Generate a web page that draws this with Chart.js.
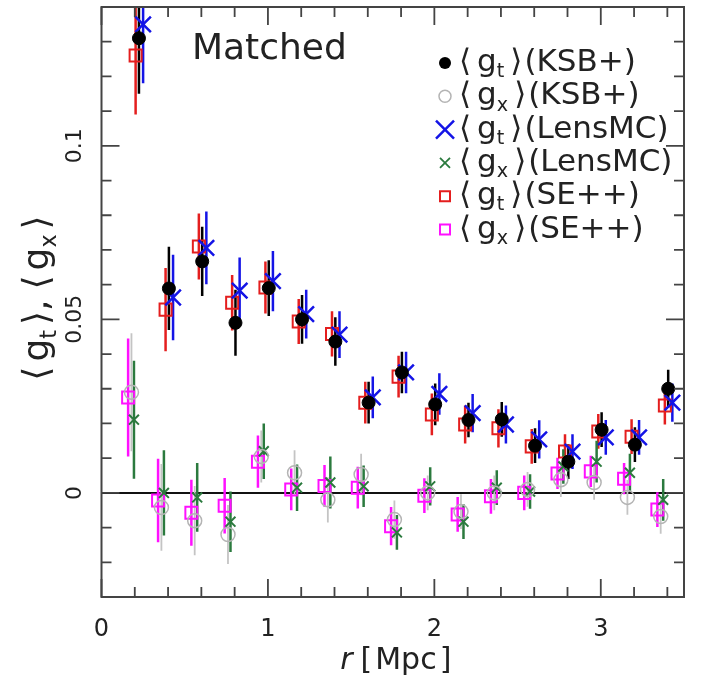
<!DOCTYPE html>
<html>
<head>
<meta charset="utf-8">
<script src="https://cdn.jsdelivr.net/npm/chart.js@4.4.0/dist/chart.umd.min.js"></script>
<style>
  html, body { margin: 0; padding: 0; background: #fff; }
</style>
</head>
<body>
<canvas id="chart" width="707" height="691"></canvas>
<script>
// radial bins [Mpc]
const radius = [0.22, 0.4, 0.6, 0.8, 1.0, 1.2, 1.4, 1.6, 1.8, 2.0, 2.2, 2.4, 2.6, 2.8, 3.0, 3.2, 3.4];

// tangential shear
const gtKSB   = [0.131, 0.0589, 0.0667, 0.049, 0.059, 0.050, 0.0436, 0.026, 0.0347, 0.0255, 0.021, 0.0212, 0.0136, 0.009, 0.0182, 0.0139, 0.030];
const gtKSBErr = [0.016, 0.012, 0.010, 0.0095, 0.008, 0.007, 0.007, 0.006, 0.006, 0.006, 0.005, 0.005, 0.005, 0.005, 0.005, 0.005, 0.0055];
const gtLens  = [0.135, 0.0563, 0.0706, 0.0583, 0.061, 0.0515, 0.0456, 0.0275, 0.0347, 0.0285, 0.023, 0.0197, 0.0154, 0.0119, 0.016, 0.016, 0.026];
const gtLensErr = [0.017, 0.0123, 0.0105, 0.0095, 0.0087, 0.007, 0.0067, 0.006, 0.006, 0.006, 0.0055, 0.0055, 0.0055, 0.005, 0.005, 0.005, 0.0055];
const gtSE    = [0.126, 0.0528, 0.071, 0.0548, 0.0592, 0.0494, 0.0458, 0.026, 0.0335, 0.0226, 0.0197, 0.0186, 0.0134, 0.0119, 0.0177, 0.0162, 0.0252];
const gtSEErr = [0.017, 0.012, 0.0095, 0.008, 0.0075, 0.0065, 0.0065, 0.006, 0.006, 0.006, 0.0055, 0.0055, 0.005, 0.005, 0.005, 0.005, 0.0055];

// cross shear
const gxKSB   = [0.029, -0.0042, -0.008, -0.012, 0.0105, 0.0058, -0.002, 0.0053, -0.0077, 0.0, -0.0054, 0.0, 0.001, 0.0038, 0.003, -0.0013, -0.0068];
const gxKSBErr = [0.017, 0.0125, 0.010, 0.0085, 0.0075, 0.0065, 0.0065, 0.006, 0.0055, 0.005, 0.005, 0.005, 0.005, 0.005, 0.005, 0.005, 0.005];
const gxLens  = [0.0211, 0.0, -0.0013, -0.0083, 0.012, 0.0015, 0.003, 0.0019, -0.0114, 0.0019, -0.0083, 0.0015, 0.0004, 0.0076, 0.009, 0.0058, -0.002];
const gxLensErr = [0.017, 0.0123, 0.0099, 0.0087, 0.008, 0.0067, 0.0075, 0.006, 0.005, 0.0055, 0.005, 0.005, 0.005, 0.005, 0.006, 0.0055, 0.006];
const gxSE    = [0.0275, -0.0022, -0.0057, -0.0037, 0.009, 0.001, 0.002, 0.0015, -0.0096, -0.0008, -0.0062, -0.001, 0.0, 0.0056, 0.0062, 0.0041, -0.0048];
const gxSEErr = [0.017, 0.012, 0.0095, 0.008, 0.0075, 0.006, 0.006, 0.006, 0.0055, 0.005, 0.005, 0.005, 0.005, 0.0045, 0.0045, 0.0045, 0.005];

const xTicks = [0, 1, 2, 3];
const yTicks = [0, 0.05, 0.1];

const FONT = '"DejaVu Sans", sans-serif';
const INK = '#222';
const AXIS = '#444';

// [subscript, method, marker]
const legendRows = [
  ['t', 'KSB+', 'dot'],
  ['x', 'KSB+', 'ring'],
  ['t', 'LensMC', 'bigX'],
  ['x', 'LensMC', 'smallX'],
  ['t', 'SE++', 'redSq'],
  ['x', 'SE++', 'magSq'],
];

function series(label, xs, ys, errs, dx, style) {
  return Object.assign({
    label: label,
    data: xs.map((r, i) => ({ x: r + dx, y: ys[i] })),
    errors: errs,
  }, style);
}

const datasets = [
  series('gt KSB+', radius, gtKSB, gtKSBErr, 0.005,
    { pointStyle: 'circle', pointRadius: 6.5, backgroundColor: '#000', borderColor: '#000', borderWidth: 1, errColor: '#000', errWidth: 2.5 }),
  series('gx KSB+', radius, gxKSB, gxKSBErr, -0.04,
    { pointStyle: 'circle', pointRadius: 7, backgroundColor: 'rgba(0,0,0,0)', borderColor: '#b4b4b4', borderWidth: 1.5, errColor: '#c4c4c4', errWidth: 1.8 }),
  series('gt LensMC', radius, gtLens, gtLensErr, 0.03,
    { pointStyle: 'crossRot', pointRadius: 11, backgroundColor: '#1414e6', borderColor: '#1414e6', borderWidth: 2.5, errColor: '#1414e6', errWidth: 2.5 }),
  series('gx LensMC', radius, gxLens, gxLensErr, -0.025,
    { pointStyle: 'crossRot', pointRadius: 7, backgroundColor: '#2b7a3e', borderColor: '#2b7a3e', borderWidth: 2, errColor: '#2b7a3e', errWidth: 2.5 }),
  series('gt SE++', radius, gtSE, gtSEErr, -0.015,
    { pointStyle: 'rect', pointRadius: 8.5, backgroundColor: 'rgba(0,0,0,0)', borderColor: '#e41e1e', borderWidth: 2, errColor: '#e41e1e', errWidth: 2.5 }),
  series('gx SE++', radius, gxSE, gxSEErr, -0.06,
    { pointStyle: 'rect', pointRadius: 8.5, backgroundColor: 'rgba(0,0,0,0)', borderColor: '#ff10ff', borderWidth: 2, errColor: '#ff10ff', errWidth: 2.5 }),
];

// draw a run of pieces: [text, isSub, isItalic] or a number for extra space
function drawRuns(ctx, runs, x, y, size, align) {
  const fontOf = r => (r[2] ? 'italic ' : '') + (r[1] ? size * 0.62 : size) + 'px ' + FONT;
  const widths = runs.map(r => {
    if (typeof r === 'number') return r;
    ctx.font = fontOf(r);
    return ctx.measureText(r[0]).width;
  });
  const total = widths.reduce((a, b) => a + b, 0);
  let cx = align === 'center' ? x - total / 2 : x;
  runs.forEach((r, i) => {
    if (typeof r !== 'number') {
      ctx.font = fontOf(r);
      ctx.fillText(r[0], cx, r[1] ? y + size * 0.3 : y);
    }
    cx += widths[i];
  });
}

// <g_sub> with the roomy angle brackets of the original
function bracket(sub, pad) {
  return [['\u27e8', 0], pad, ['g', 0], [sub, 1], pad, ['\u27e9', 0]];
}

function drawMarker(ctx, kind, x, y) {
  ctx.save();
  ctx.beginPath();
  if (kind === 'dot') {
    ctx.fillStyle = '#000';
    ctx.arc(x, y, 6, 0, Math.PI * 2);
    ctx.fill();
  } else if (kind === 'ring') {
    ctx.strokeStyle = '#b4b4b4'; ctx.lineWidth = 1.5;
    ctx.arc(x, y, 6, 0, Math.PI * 2);
    ctx.stroke();
  } else if (kind === 'bigX' || kind === 'smallX') {
    const h = kind === 'bigX' ? 9 : 5;
    ctx.strokeStyle = kind === 'bigX' ? '#1414e6' : '#2b7a3e';
    ctx.lineWidth = kind === 'bigX' ? 2.5 : 1.8;
    ctx.moveTo(x - h, y - h); ctx.lineTo(x + h, y + h);
    ctx.moveTo(x + h, y - h); ctx.lineTo(x - h, y + h);
    ctx.stroke();
  } else {
    ctx.strokeStyle = kind === 'redSq' ? '#e41e1e' : '#ff10ff';
    ctx.lineWidth = 2;
    ctx.rect(x - 5, y - 5, 10, 10);
    ctx.stroke();
  }
  ctx.restore();
}

const errorBars = {
  id: 'errorBars',
  beforeDatasetsDraw(chart) {
    const { ctx, chartArea: a, scales: { y } } = chart;
    ctx.save();
    ctx.beginPath();
    ctx.rect(a.left, a.top, a.right - a.left, a.bottom - a.top);
    ctx.clip();
    // zero line
    ctx.strokeStyle = '#111';
    ctx.lineWidth = 2;
    ctx.beginPath();
    ctx.moveTo(a.left, y.getPixelForValue(0));
    ctx.lineTo(a.right, y.getPixelForValue(0));
    ctx.stroke();
    for (let d = chart.data.datasets.length - 1; d >= 0; d--) {
      const ds = chart.data.datasets[d];
      const meta = chart.getDatasetMeta(d);
      ctx.strokeStyle = ds.errColor;
      ctx.lineWidth = ds.errWidth;
      meta.data.forEach((pt, i) => {
        const v = ds.data[i].y, e = ds.errors[i];
        ctx.beginPath();
        ctx.moveTo(pt.x, y.getPixelForValue(v - e));
        ctx.lineTo(pt.x, y.getPixelForValue(v + e));
        ctx.stroke();
      });
    }
    ctx.restore();
  },
};

const decorations = {
  id: 'decorations',
  afterDraw(chart) {
    const { ctx, chartArea: a, scales: { x, y } } = chart;
    ctx.save();
    // frame
    ctx.strokeStyle = AXIS;
    ctx.lineWidth = 2;
    ctx.strokeRect(a.left, a.top, a.right - a.left, a.bottom - a.top);
    // inward ticks on every side
    ctx.lineWidth = 1.8;
    for (let k = 0; k <= Math.round((x.max - x.min) / 0.2); k++) {
      const v = x.min + k * 0.2;
      if (v > x.max + 1e-9) break;
      const px = x.getPixelForValue(v);
      const len = Math.abs(v - Math.round(v)) < 1e-6 ? 18 : 10;
      ctx.beginPath();
      ctx.moveTo(px, a.bottom); ctx.lineTo(px, a.bottom - len);
      ctx.moveTo(px, a.top); ctx.lineTo(px, a.top + len);
      ctx.stroke();
    }
    for (let k = 0; k <= Math.round((y.max - y.min) / 0.01); k++) {
      const v = y.min + k * 0.01;
      const py = y.getPixelForValue(v);
      const major = Math.abs(v / 0.05 - Math.round(v / 0.05)) < 1e-6;
      const len = major ? 18 : 10;
      ctx.beginPath();
      ctx.moveTo(a.left, py); ctx.lineTo(a.left + len, py);
      ctx.moveTo(a.right, py); ctx.lineTo(a.right - len, py);
      ctx.stroke();
    }

    ctx.fillStyle = INK;
    ctx.textBaseline = 'middle';
    ctx.textAlign = 'left';

    // rotated y tick labels
    yTicks.forEach(v => {
      ctx.save();
      ctx.translate(a.left - 26, y.getPixelForValue(v));
      ctx.rotate(-Math.PI / 2);
      ctx.font = '22px ' + FONT;
      ctx.textAlign = 'center';
      ctx.fillText(String(v), 0, 0);
      ctx.restore();
    });

    // y axis title
    ctx.save();
    ctx.translate(39, 298);
    ctx.rotate(-Math.PI / 2);
    drawRuns(ctx, [...bracket('t', 5), [',', 0], 10, ...bracket('x', 5)], 0, 0, 36, 'center');
    ctx.restore();

    // x axis title
    drawRuns(ctx, [['r', 0, 1], 8, ['[', 0], 3, ['Mpc', 0], 3, [']', 0]], (a.left + a.right) / 2 + 3, 661, 30, 'center');

    // panel label
    ctx.font = '36px ' + FONT;
    ctx.fillText('Matched', 192, 50);

    // legend
    legendRows.forEach(([sub, method, kind], i) => {
      const ly = 63 + i * 33.3;
      drawMarker(ctx, kind, 445, ly);
      drawRuns(ctx, [...bracket(sub, 6), 2, ['(' + method + ')', 0]], 459, ly, 31, 'left');
    });
    ctx.restore();
  },
};

new Chart(document.getElementById('chart'), {
  type: 'scatter',
  data: { datasets: datasets },
  options: {
    responsive: false,
    animation: false,
    events: [],
    layout: { autoPadding: false, padding: { top: 7, right: 23, left: 0, bottom: 0 } },
    plugins: { legend: { display: false }, tooltip: { enabled: false } },
    scales: {
      x: {
        type: 'linear', min: 0, max: 3.5,
        grid: { display: false, drawTicks: false },
        border: { display: false },
        afterBuildTicks: s => { s.ticks = xTicks.map(v => ({ value: v })); },
        ticks: { font: { size: 24, family: FONT }, color: INK, padding: 18, maxRotation: 0 },
        afterFit: s => { s.height = 94; },
      },
      y: {
        type: 'linear', min: -0.03, max: 0.14,
        grid: { display: false, drawTicks: false },
        border: { display: false },
        ticks: { display: false },
        afterFit: s => { s.width = 101.5; },
      },
    },
  },
  plugins: [errorBars, decorations],
});
</script>
</body>
</html>
